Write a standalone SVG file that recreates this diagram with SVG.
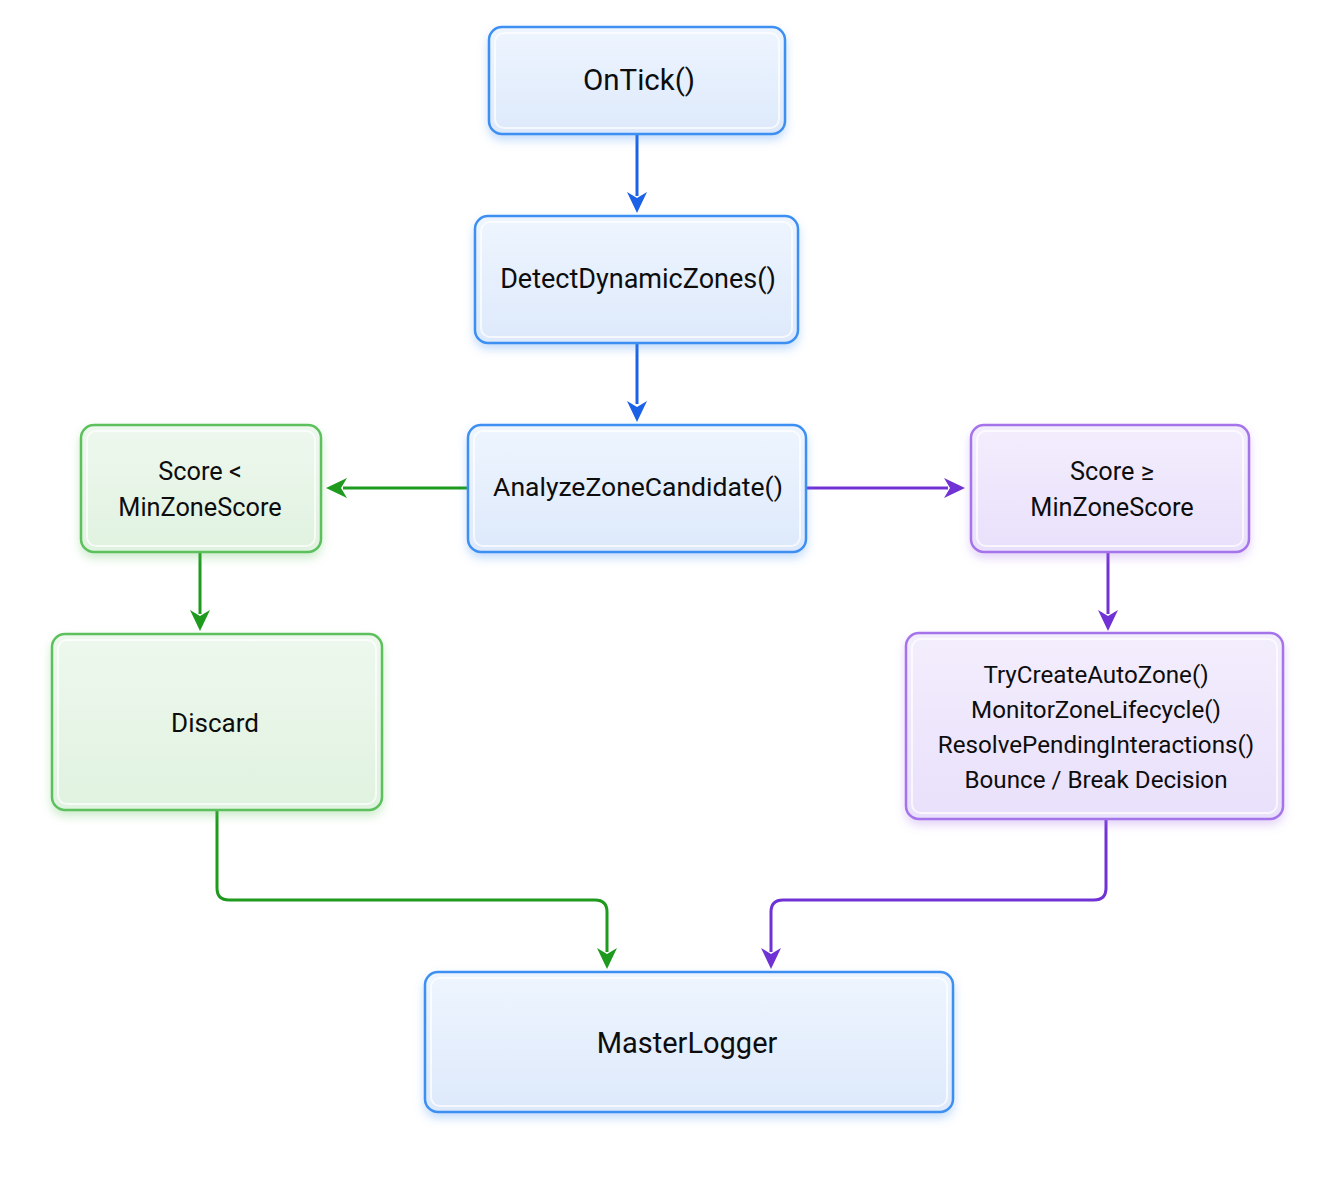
<svg xmlns="http://www.w3.org/2000/svg" width="1330" height="1182" viewBox="0 0 1330 1182">
<style>
  .t { font-family: Roboto, "Liberation Sans", sans-serif; font-size: 26px; fill: #0d0d0d; text-anchor: middle; }
  .blue { fill: url(#gb); stroke: #3d8ff2; stroke-width: 2.5; filter: url(#sb); }
  .green { fill: url(#gg); stroke: #5cc05c; stroke-width: 2.5; filter: url(#sg); }
  .purple { fill: url(#gp); stroke: #a573ea; stroke-width: 2.5; filter: url(#sp); }
  .inner { fill: none; stroke: #ffffff; stroke-opacity: 0.7; stroke-width: 2; }
  .cb { fill: none; stroke: #1c62e6; stroke-width: 3; }
  .cg { fill: none; stroke: #1e9a1e; stroke-width: 3; }
  .cp { fill: none; stroke: #7032d4; stroke-width: 3; }
</style>
<defs>
  <linearGradient id="gb" x1="0" y1="0" x2="0" y2="1"><stop offset="0" stop-color="#eef5fe"/><stop offset="1" stop-color="#dde9fb"/></linearGradient>
  <linearGradient id="gg" x1="0" y1="0" x2="0" y2="1"><stop offset="0" stop-color="#eef8ee"/><stop offset="1" stop-color="#e0f2e0"/></linearGradient>
  <linearGradient id="gp" x1="0" y1="0" x2="0" y2="1"><stop offset="0" stop-color="#f3eefd"/><stop offset="1" stop-color="#e9e0fb"/></linearGradient>
  <filter id="sb" x="-10%" y="-20%" width="120%" height="150%"><feDropShadow dx="0" dy="5" stdDeviation="5" flood-color="#3d8ff2" flood-opacity="0.3"/></filter>
  <filter id="sg" x="-10%" y="-20%" width="120%" height="150%"><feDropShadow dx="0" dy="5" stdDeviation="5" flood-color="#5cc05c" flood-opacity="0.3"/></filter>
  <filter id="sp" x="-10%" y="-20%" width="120%" height="150%"><feDropShadow dx="0" dy="5" stdDeviation="5" flood-color="#a573ea" flood-opacity="0.3"/></filter>
</defs>
<rect width="1330" height="1182" fill="#ffffff"/>

<g id="connectors">
  <path class="cb" d="M637,135 V196"/>
  <path d="M627,192 L637,213 L647,192 L637,198 Z" fill="#1c62e6"/>
  <path class="cb" d="M637,344 V404"/>
  <path d="M627,401 L637,422 L647,401 L637,407 Z" fill="#1c62e6"/>
  <path class="cg" d="M468,488 H343"/>
  <path d="M347,478 L326,488 L347,498 L341,488 Z" fill="#1e9a1e"/>
  <path class="cp" d="M806,488 H948"/>
  <path d="M944,478 L965,488 L944,498 L950,488 Z" fill="#7032d4"/>
  <path class="cg" d="M200,553 V614"/>
  <path d="M190,610 L200,631 L210,610 L200,616 Z" fill="#1e9a1e"/>
  <path class="cp" d="M1108,553 V614"/>
  <path d="M1098,610 L1108,631 L1118,610 L1108,616 Z" fill="#7032d4"/>
  <path class="cg" d="M217,811 V888 Q217,900 229,900 H595 Q607,900 607,912 V952"/>
  <path d="M597,948 L607,969 L617,948 L607,954 Z" fill="#1e9a1e"/>
  <path class="cp" d="M1106,820 V888 Q1106,900 1094,900 H783 Q771,900 771,912 V952"/>
  <path d="M761,948 L771,969 L781,948 L771,954 Z" fill="#7032d4"/>
</g>

<g id="n-ontick">
  <rect class="blue" x="489" y="27" width="296" height="107" rx="13"/>
  <rect class="inner" x="495" y="33" width="284" height="95" rx="9"/>
  <text class="t" x="639" y="90" style="font-size:29.5px">OnTick()</text>
</g>
<g id="n-detect">
  <rect class="blue" x="475" y="216" width="323" height="127" rx="13"/>
  <rect class="inner" x="481" y="222" width="311" height="115" rx="9"/>
  <text class="t" x="638" y="288" style="font-size:27px">DetectDynamicZones()</text>
</g>
<g id="n-analyze">
  <rect class="blue" x="468" y="425" width="338" height="127" rx="13"/>
  <rect class="inner" x="474" y="431" width="326" height="115" rx="9"/>
  <text class="t" x="638" y="496" style="font-size:26.5px">AnalyzeZoneCandidate()</text>
</g>
<g id="n-lt">
  <rect class="green" x="81" y="425" width="240" height="127" rx="13"/>
  <rect class="inner" x="87" y="431" width="228" height="115" rx="9"/>
  <text class="t" x="200" y="480" style="font-size:25.3px">Score &lt;</text>
  <text class="t" x="200" y="516" style="font-size:25.3px">MinZoneScore</text>
</g>
<g id="n-ge">
  <rect class="purple" x="971" y="425" width="278" height="127" rx="13"/>
  <rect class="inner" x="977" y="431" width="266" height="115" rx="9"/>
  <text class="t" x="1112" y="480" style="font-size:25.3px">Score ≥</text>
  <text class="t" x="1112" y="516" style="font-size:25.3px">MinZoneScore</text>
</g>
<g id="n-discard">
  <rect class="green" x="52" y="634" width="330" height="176" rx="13"/>
  <rect class="inner" x="58" y="640" width="318" height="164" rx="9"/>
  <text class="t" x="215" y="732">Discard</text>
</g>
<g id="n-zone">
  <rect class="purple" x="906" y="633" width="377" height="186" rx="13"/>
  <rect class="inner" x="912" y="639" width="365" height="174" rx="9"/>
  <text class="t" x="1096" y="683" style="font-size:24.2px">TryCreateAutoZone()</text>
  <text class="t" x="1096" y="718" style="font-size:24.2px">MonitorZoneLifecycle()</text>
  <text class="t" x="1096" y="753" style="font-size:24.2px">ResolvePendingInteractions()</text>
  <text class="t" x="1096" y="788" style="font-size:24.2px">Bounce / Break Decision</text>
</g>
<g id="n-logger">
  <rect class="blue" x="425" y="972" width="528" height="140" rx="13"/>
  <rect class="inner" x="431" y="978" width="516" height="128" rx="9"/>
  <text class="t" x="687" y="1053" style="font-size:29px">MasterLogger</text>
</g>
</svg>
